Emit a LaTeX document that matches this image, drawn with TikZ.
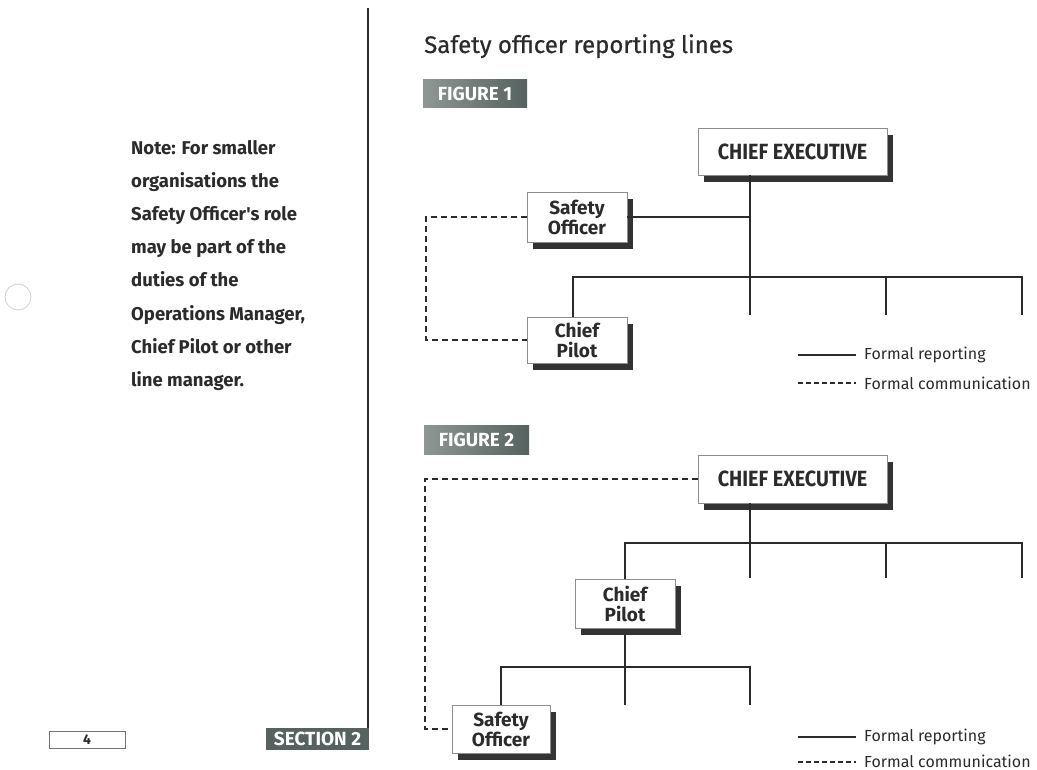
\documentclass[tikz,border=0pt]{standalone}
\usepackage{fontspec}
\usetikzlibrary{shadows}
\newfontfamily\condb[FakeStretch=0.9]{Fira Sans}
\newfontfamily\wideb{Fira Sans}
\newfontfamily\titlef[FakeBold=0.6]{Fira Sans}
\definecolor{ink}{HTML}{2B2B2B}
\definecolor{tagdark}{HTML}{56625F}
\definecolor{taglight}{HTML}{8E9794}
\tikzset{
  orgbox/.style={draw=black!45, line width=0.6pt, fill=white, align=center, inner sep=0pt,
    text=ink, font=\wideb\bfseries\fontsize{19}{20}\selectfont,
    drop shadow={shadow xshift=6pt, shadow yshift=-7pt, fill=black!80, opacity=1}},
  cebox/.style={orgbox, minimum width=189pt, font=\condb\bfseries\fontsize{22}{22}\selectfont},
  smallbox/.style={orgbox, minimum width=100pt},
  rep/.style={draw=ink, line width=1.4pt},
  com/.style={draw=ink, line width=1.3pt, dash pattern=on 6pt off 4pt},
  tag/.style={left color=taglight, right color=tagdark, text=white, inner sep=0pt,
    font=\wideb\bfseries\fontsize{19}{19}\selectfont},
  legtext/.style={anchor=west, text=ink, inner sep=0pt, font=\wideb\fontsize{16}{16}\selectfont},
  notetext/.style={anchor=base west, text=ink, inner sep=0pt,
    font=\wideb\bfseries\fontsize{18.5}{20}\selectfont},
}
\begin{document}
\begin{tikzpicture}[x=1pt,y=-1pt]
\useasboundingbox (0,0) rectangle (1037,770);
\fill[white] (0,0) rectangle (1037,770);
% punch hole artefact
\draw[black!18, line width=0.8pt] (18,297) circle (13);
% divider
\draw[ink, line width=1.2pt] (368,8) -- (368,728);
% title and tags
\node[anchor=base west, text=ink, inner sep=0pt, font=\titlef\fontsize{24}{24}\selectfont] (title) at (424,53) {Safety officer reporting lines};
\node[tag, minimum width=104pt, minimum height=28pt] (fig1) at (475,94) {FIGURE 1};
\node[tag, minimum width=105pt, minimum height=29pt] (fig2) at (476.5,439.5) {FIGURE 2};
% note
\node[notetext] (note1) at (131,155) {Note: For smaller};
\node[notetext] (note2) at (131,188) {organisations the};
\node[notetext] (note3) at (131,221) {Safety Officer's role};
\node[notetext] (note4) at (131,254) {may be part of the};
\node[notetext] (note5) at (131,287) {duties of the};
\node[notetext] (note6) at (131,320) {Operations Manager,};
\node[notetext] (note7) at (131,353) {Chief Pilot or other};
\node[notetext] (note8) at (131,386) {line manager.};
% footer
\node[draw=black!55, line width=0.8pt, minimum width=76pt, minimum height=17pt, inner sep=0pt, text=ink,
  font=\wideb\bfseries\fontsize{14}{14}\selectfont] (page) at (87,739.5) {4};
\node[fill=tagdark, text=white, minimum width=103pt, minimum height=22pt, inner sep=0pt,
  font=\wideb\bfseries\fontsize{19}{19}\selectfont] (sect) at (317.5,739) {SECTION 2};

% ---------- Figure 1 ----------
\node[cebox, minimum height=47pt] (ce1) at (792.5,151.5) {CHIEF EXECUTIVE};
\node[smallbox, minimum height=50pt] (so1) at (577,217) {Safety\\Officer};
\node[smallbox, minimum height=46pt] (cp1) at (577,340) {Chief\\Pilot};
\coordinate (a1) at (750,315);
\coordinate (a2) at (886,315);
\coordinate (a3) at (1022,315);
\coordinate (h1) at (573,277);
\draw[rep] (ce1.south -| a1) -- (a1);
\draw[rep] (so1.east) -- (so1.east -| a1);
\draw[rep] (cp1.north -| h1) -- (h1) -- (h1 -| a3) -- (a3);
\draw[rep] (h1 -| a2) -- (a2);
\coordinate (d1) at (426,217);
\draw[com] (so1.west) -- (d1) |- (cp1.west);
% legend 1
\coordinate (l1a) at (798,355);
\coordinate (l1b) at (856,355);
\coordinate (l1c) at (798,383);
\coordinate (l1d) at (856,383);
\draw[rep, line width=1.3pt] (l1a) -- (l1b);
\draw[com, line width=1.2pt, dash pattern=on 5pt off 3pt] (l1c) -- (l1d);
\node[legtext] (lt1) at (864,355) {Formal reporting};
\node[legtext] (lt2) at (864,383) {Formal communication};

% ---------- Figure 2 ----------
\node[cebox, minimum height=48pt] (ce2) at (792.5,479) {CHIEF EXECUTIVE};
\node[smallbox, minimum height=49pt] (cp2) at (625,603.5) {Chief\\Pilot};
\node[smallbox, minimum width=98pt, minimum height=48pt] (so2) at (501,729) {Safety\\Officer};
\coordinate (b1) at (750,578);
\coordinate (b2) at (886,578);
\coordinate (b3) at (1022,578);
\coordinate (g1) at (625,543);
\draw[rep] (ce2.south -| b1) -- (b1);
\draw[rep] (cp2.north) -- (g1) -- (g1 -| b3) -- (b3);
\draw[rep] (g1 -| b2) -- (b2);
\coordinate (c1) at (625,705);
\coordinate (c2) at (750,705);
\coordinate (k1) at (501,667);
\draw[rep] (cp2.south) ++(0,7) -- (c1);
\draw[rep] (so2.north) -- (k1) -- (k1 -| c2) -- (c2);
\coordinate (d2) at (425,729);
\draw[com] (ce2.west) -| (d2) -- (so2.west);
% legend 2
\coordinate (l2a) at (798,737);
\coordinate (l2b) at (856,737);
\coordinate (l2c) at (798,762);
\coordinate (l2d) at (856,762);
\draw[rep, line width=1.3pt] (l2a) -- (l2b);
\draw[com, line width=1.2pt, dash pattern=on 5pt off 3pt] (l2c) -- (l2d);
\node[legtext] (lt3) at (864,737) {Formal reporting};
\node[legtext] (lt4) at (864,761) {Formal communication};
\end{tikzpicture}
\end{document}
